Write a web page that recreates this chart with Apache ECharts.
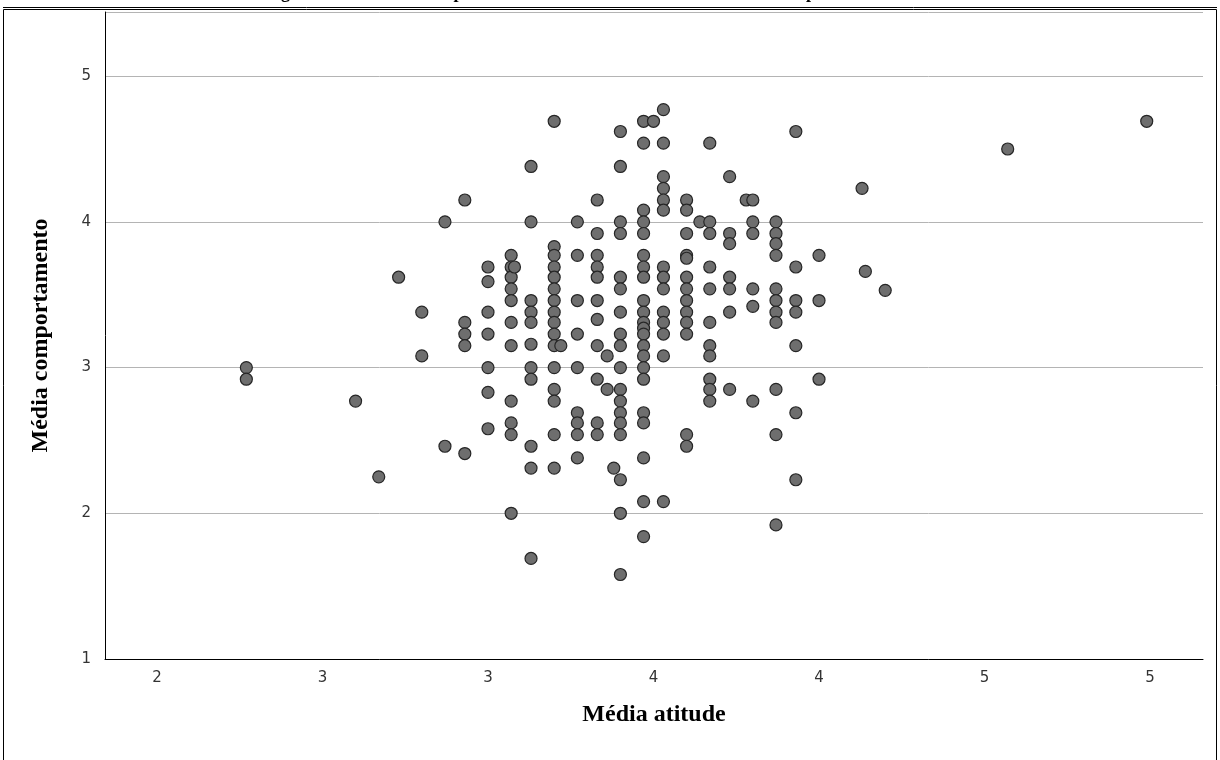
<!DOCTYPE html>
<html><head><meta charset="utf-8">
<script src="https://cdn.jsdelivr.net/npm/echarts@6/dist/echarts.min.js"></script>
<style>html,body{margin:0;padding:0;background:#fff;overflow:hidden}#c{width:1220px;height:760px}</style>
</head><body><div id="c"></div>
<script>
// Tick labels (SPSS shows the half steps rounded)
const xTickValues = [2, 2.5, 3, 3.5, 4, 4.5, 5];
const xTickLabels = ['2', '3', '3', '4', '4', '5', '5'];
const yTickValues = [1, 2, 3, 4, 5];
const yTickLabels = ['1', '2', '3', '4', '5'];

// Média atitude (one entry per column of points)
const mediaAtitude = [2.27, 2.60, 2.67, 2.73, 2.80, 2.87, 2.93, 3.00, 3.07, 3.08, 3.13, 3.20, 3.22, 3.27, 3.33, 3.36, 3.38, 3.40, 3.47, 3.50, 3.53, 3.60, 3.64, 3.67, 3.73, 3.78, 3.80, 3.87, 3.93, 4.00, 4.13, 4.14, 4.20, 4.57, 4.99];
// Média comportamento for each attitude column
const mediaComportamento = [
  [3.00, 2.92],
  [2.77],
  [2.25],
  [3.62],
  [3.38, 3.08],
  [4.00, 2.46],
  [4.15, 3.31, 3.23, 3.15, 2.41],
  [3.69, 3.59, 3.38, 3.23, 3.00, 2.83, 2.58],
  [3.77, 3.69, 3.62, 3.54, 3.46, 3.31, 3.15, 2.77, 2.62, 2.54, 2.00],
  [3.69],
  [4.38, 4.00, 3.46, 3.38, 3.31, 3.16, 3.00, 2.92, 2.46, 2.31, 1.69],
  [4.69, 3.83, 3.77, 3.69, 3.62, 3.54, 3.46, 3.38, 3.31, 3.23, 3.15, 3.00, 2.85, 2.77, 2.54, 2.31],
  [3.15],
  [4.00, 3.77, 3.46, 3.23, 3.00, 2.69, 2.62, 2.54, 2.38],
  [4.15, 3.92, 3.77, 3.69, 3.62, 3.46, 3.33, 3.15, 2.92, 2.62, 2.54],
  [3.08, 2.85],
  [2.31],
  [4.62, 4.38, 4.00, 3.92, 3.62, 3.54, 3.38, 3.23, 3.15, 3.00, 2.85, 2.77, 2.69, 2.62, 2.54, 2.23, 2.00, 1.58],
  [4.69, 4.54, 4.08, 4.00, 3.92, 3.77, 3.69, 3.62, 3.46, 3.38, 3.31, 3.27, 3.23, 3.15, 3.08, 3.00, 2.92, 2.69, 2.62, 2.38, 2.08, 1.84],
  [4.69],
  [4.77, 4.54, 4.31, 4.23, 4.15, 4.08, 3.69, 3.62, 3.54, 3.38, 3.31, 3.23, 3.08, 2.08],
  [4.15, 4.08, 3.92, 3.77, 3.75, 3.62, 3.54, 3.46, 3.38, 3.31, 3.23, 2.54, 2.46],
  [4.00],
  [4.54, 4.00, 3.92, 3.69, 3.54, 3.31, 3.15, 3.08, 2.92, 2.85, 2.77],
  [4.31, 3.92, 3.85, 3.62, 3.54, 3.38, 2.85],
  [4.15],
  [4.15, 4.00, 3.92, 3.54, 3.42, 2.77],
  [4.00, 3.92, 3.85, 3.77, 3.54, 3.46, 3.38, 3.31, 2.85, 2.54, 1.92],
  [4.62, 3.69, 3.46, 3.38, 3.15, 2.69, 2.23],
  [3.77, 3.46, 2.92],
  [4.23],
  [3.66],
  [3.53],
  [4.50],
  [4.69]
];

const xAxisTitle = 'Média atitude';
const yAxisTitle = 'Média comportamento';
// Figure caption above the frame (cut off at the top of the picture)
const figureTitle = 'Figura 4 - Gráfico de dispersão entre média da atitude e média do comportamento';

const points = [];
mediaAtitude.forEach((x, i) => mediaComportamento[i].forEach(y => points.push([x, y])));

const chart = echarts.init(document.getElementById('c'), null, {renderer: 'canvas'});
chart.setOption({
  animation: false,
  backgroundColor: '#fff',
  grid: {left: 105, right: 17, top: 12, bottom: 101, containLabel: false},
  xAxis: {
    type: 'value', min: 1.843, max: 5.16,
    axisLine: {show: true, onZero: false, lineStyle: {color: '#000', width: 1}},
    axisTick: {show: false},
    splitLine: {show: false},
    axisLabel: {
      customValues: xTickValues,
      margin: 12, color: '#333', fontFamily: 'DejaVu Sans', fontSize: 15,
      formatter: v => { const i = xTickValues.findIndex(t => Math.abs(t - v) < 1e-6); return i >= 0 ? xTickLabels[i] : ''; }
    },
    name: xAxisTitle, nameLocation: 'middle', nameGap: 44,
    nameTextStyle: {fontFamily: 'Liberation Serif', fontWeight: 'bold', fontSize: 24, color: '#000'}
  },
  yAxis: {
    type: 'value', min: 1, max: 5.44, interval: 1,
    axisLine: {show: true, onZero: false, lineStyle: {color: '#000', width: 1}},
    axisTick: {show: false},
    splitLine: {show: true, lineStyle: {color: '#b4b4b4', width: 1}},
    axisLabel: {
      customValues: yTickValues,
      margin: 14, color: '#333', fontFamily: 'DejaVu Sans', fontSize: 15,
      formatter: v => { const i = yTickValues.findIndex(t => Math.abs(t - v) < 1e-6); return i >= 0 ? yTickLabels[i] : ''; }
    },
    name: yAxisTitle, nameLocation: 'middle', nameGap: 52, nameRotate: 90,
    nameTextStyle: {fontFamily: 'Liberation Serif', fontWeight: 'bold', fontSize: 24, color: '#000'}
  },
  graphic: [
    {type: 'rect', shape: {x: 3.5, y: 9.5, width: 1213, height: 760}, style: {fill: 'none', stroke: '#000', lineWidth: 1}, silent: true},
    {type: 'line', shape: {x1: 3, y1: 7.5, x2: 1217, y2: 7.5}, style: {stroke: '#000', lineWidth: 1}, silent: true},
    {type: 'text', x: 265, y: -7, style: {text: figureTitle, font: 'bold 18px "Liberation Serif"', fill: '#000', verticalAlign: 'middle', align: 'left'}, silent: true}
  ],
  series: [{
    type: 'scatter', data: points, symbol: 'circle', symbolSize: 12,
    itemStyle: {color: '#6e6e6e', borderColor: '#262626', borderWidth: 1.2, opacity: 1}
  }]
});
</script>
</body></html>
